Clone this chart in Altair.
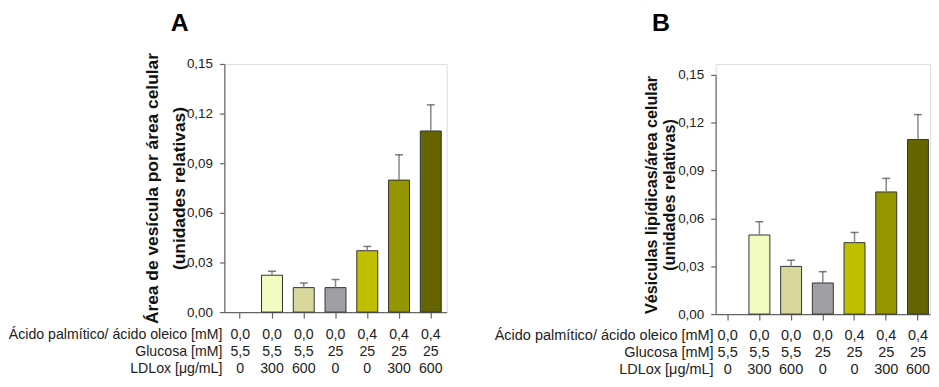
import altair as alt
import pandas as pd

FONT = "Liberation Sans"

groups = ["g1", "g2", "g3", "g4", "g5", "g6", "g7"]
acid = ["0,0", "0,0", "0,0", "0,0", "0,4", "0,4", "0,4"]
glucose = ["5,5", "5,5", "5,5", "25", "25", "25", "25"]
ldlox = ["0", "300", "600", "0", "0", "300", "600"]
row_labels = ["Ácido palmítico/ ácido oleico [mM]", "Glucosa [mM]", "LDLox [μg/mL]"]

mean_a = [0.0, 0.0223, 0.0148, 0.0148, 0.0371, 0.0798, 0.1095]
err_a = [0.0, 0.0247, 0.0176, 0.0197, 0.0397, 0.0951, 0.1253]
mean_b = [0.0, 0.0496, 0.0299, 0.0195, 0.0448, 0.0766, 0.1095]
err_b = [0.0, 0.0579, 0.0338, 0.0266, 0.0512, 0.0851, 0.1251]

colors_a = ["#ffffff", "#F2FBC0", "#D8D89C", "#A0A0A4", "#C0C000", "#959500", "#656500"]
colors_b = ["#ffffff", "#F2FBC0", "#D8D89C", "#A0A0A4", "#C0C000", "#808000", "#656500"]

title_a = ["Área de vesícula por área celular", "(unidades relativas)"]
title_b = ["Vésiculas lipídicas/área celular", "(unidades relativas)"]

y_ticks = [0.0, 0.015, 0.03, 0.045, 0.06, 0.075, 0.09, 0.105, 0.12, 0.135, 0.15]


def panel(mean, err, colors, title_lines, letter, letter_x, width, height, yrange,
          line_h, title_size, title_pad, table_size, pad_outer):
    df = pd.DataFrame({
        "g": groups,
        "mean": mean,
        "err": err,
        "table": [f"{a}\n{b}\n{c}" for a, b, c in zip(acid, glucose, ldlox)],
    })
    yscale = alt.Scale(domain=[0, 0.15], nice=False, zero=True, range=yrange)
    xenc = alt.X(
        "g:N", sort=groups,
        scale=alt.Scale(paddingInner=0.34, paddingOuter=pad_outer),
        axis=alt.Axis(labels=False, title=None, ticks=True, tickSize=6,
                      domainColor="#666666", tickColor="#666666",
                      domainWidth=1.2, tickWidth=1.2),
    )
    base = alt.Chart(df).encode(x=xenc)
    yaxis = alt.Axis(
        values=y_ticks,
        labelExpr="round(datum.value*1000) % 30 == 0 ? replace(format(datum.value, '.2f'), '.', ',') : ''",
        grid=False, tickSize=5, labelPadding=7, labelFontSize=13.5, labelFont=FONT,
        labelColor="#222222", domainColor="#666666", tickColor="#666666",
        domainWidth=1.2, tickWidth=1.2,
        title=title_lines, titleFont=FONT, titleFontSize=title_size, titleFontWeight="bold",
        titleColor="#111111", titleLineHeight=line_h, titlePadding=title_pad,
    )
    bars = base.mark_bar(stroke="#333333", strokeWidth=1).encode(
        y=alt.Y("mean:Q", scale=yscale, axis=yaxis),
        color=alt.Color("g:N", scale=alt.Scale(domain=groups, range=colors), legend=None),
    ).transform_filter("datum.mean > 0")
    rule = base.mark_rule(color="#888888", strokeWidth=1.5).encode(
        y=alt.Y("mean:Q", scale=yscale), y2="err:Q"
    ).transform_filter("datum.mean > 0")
    cap = base.mark_tick(color="#444444", size=8, thickness=1.5).encode(
        y=alt.Y("err:Q", scale=yscale)
    ).transform_filter("datum.mean > 0")
    table = base.mark_text(font=FONT, fontSize=table_size, lineBreak="\n", lineHeight=17,
                           baseline="top", color="#222222").encode(
        y=alt.value(266), text="table:N"
    )
    labels = alt.Chart(pd.DataFrame({"t": ["\n".join(row_labels)]})).mark_text(
        font=FONT, fontSize=table_size, lineBreak="\n", lineHeight=17, align="right",
        baseline="top", color="#222222"
    ).encode(x=alt.value(-2), y=alt.value(266), text="t:N")
    let = alt.Chart(pd.DataFrame({"t": [letter]})).mark_text(
        font=FONT, fontSize=25, fontWeight="bold", color="#000000"
    ).encode(x=alt.value(letter_x), y=alt.value(-41), text="t:N")
    return alt.layer(bars, rule, cap, table, labels, let).properties(width=width, height=height)


chart_a = panel(mean_a, err_a, colors_a, title_a, "A", -45, 224, 250, [250, 0],
                27, 17.5, -2, 14.25, 0.17)
chart_b = panel(mean_b, err_b, colors_b, title_b, "B", -55, 216, 252, [252, 11],
                18, 16.3, 0, 14.6, 0.05)

chart = alt.hconcat(chart_a, chart_b, spacing=46).configure_view(stroke=None).configure(
    font=FONT, background="white"
).properties(padding={"top": 1, "left": 0, "right": 0, "bottom": 0})

chart.save("out.html", embed_options={"renderer": "svg", "actions": False})
